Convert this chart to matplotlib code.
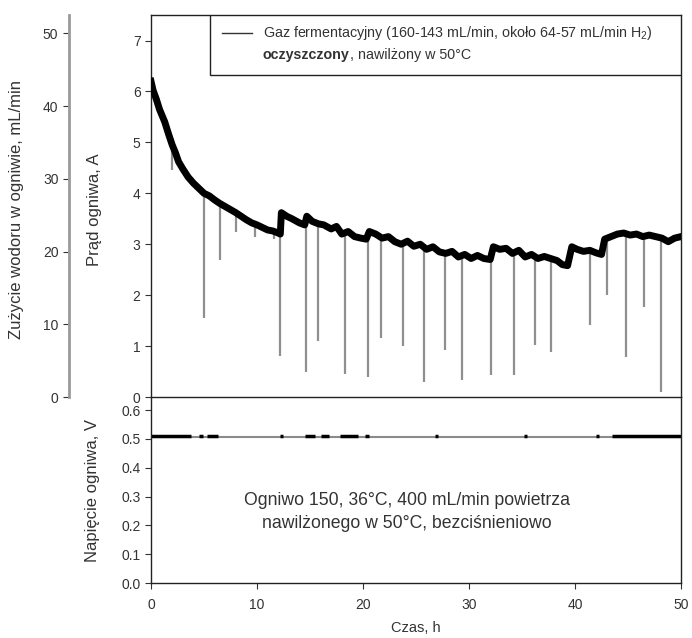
#!/usr/bin/env python3
"""Prąd i napięcie ogniwa 150 zasilanego gazem fermentacyjnym (50 h)."""

import numpy as np
import matplotlib
matplotlib.use("Agg")
import matplotlib.pyplot as plt
from matplotlib.patches import Rectangle

# Prąd ogniwa - przebieg bazowy
time_h = [0, 0.2, 0.5, 0.8, 1, 1.3, 1.6, 2, 2.3, 2.6, 3, 3.5, 4, 4.5, 5, 5.5,
          6, 6.5, 7, 7.5, 8, 8.5, 9, 9.5, 10, 10.5, 11, 11.5, 12, 12.2,
          12.3, 12.8, 13.3, 14, 14.5, 14.7, 15.2, 15.8, 16.3, 17, 17.5, 18,
          18.6, 19.2, 19.8, 20.3, 20.6, 21.2, 21.8, 22.4, 23, 23.6, 24.2, 24.8,
          25.4, 26, 26.6, 27.2, 27.8, 28.4, 29, 29.6, 30.2, 30.8, 31.4, 32.0,
          32.3, 32.9, 33.5, 34.1, 34.7, 35.3, 35.9, 36.5, 37.1, 37.7, 38.3,
          38.8, 39.3, 39.7, 40.2, 40.8, 41.4, 42.0, 42.5, 42.8, 43.4, 44.0,
          44.6, 45.2, 45.8, 46.4, 47.0, 47.6, 48.2, 48.8, 49.4, 50]
current_a = [6.2, 6.02, 5.85, 5.65, 5.55, 5.4, 5.2, 4.95, 4.8, 4.62, 4.48, 4.32,
             4.2, 4.1, 4.0, 3.95, 3.87, 3.8, 3.74, 3.68, 3.62, 3.55, 3.48, 3.42,
             3.38, 3.33, 3.28, 3.26, 3.22, 3.2,
             3.62, 3.55, 3.5, 3.42, 3.38, 3.55, 3.45, 3.4, 3.38, 3.3, 3.35, 3.2,
             3.25, 3.15, 3.12, 3.1, 3.25, 3.2, 3.12, 3.15, 3.05, 3.0, 3.06, 2.96,
             3.0, 2.9, 2.95, 2.85, 2.82, 2.86, 2.75, 2.8, 2.72, 2.78, 2.72, 2.7,
             2.95, 2.9, 2.92, 2.82, 2.88, 2.75, 2.8, 2.72, 2.76, 2.72, 2.68,
             2.6, 2.58, 2.95, 2.9, 2.86, 2.88, 2.83, 2.8, 3.1, 3.15, 3.2,
             3.22, 3.18, 3.2, 3.15, 3.18, 3.15, 3.12, 3.05, 3.12, 3.15]

# Krótkie spadki prądu: czas (h) i minimum (A)
dip_time_h = [2.0, 5.0, 6.5, 8.0, 9.8, 11.6, 12.2, 14.6, 15.8, 18.3, 20.5,
              21.7, 23.8, 25.8, 27.7, 29.3, 32.1, 34.2, 36.2, 37.7, 41.4,
              43.0, 44.8, 46.5, 48.1]
dip_min_a = [4.45, 1.55, 2.7, 3.25, 3.15, 3.1, 0.8, 0.5, 1.1, 0.45, 0.4,
             1.15, 1.0, 0.3, 0.92, 0.33, 0.43, 0.43, 1.02, 0.89, 1.41,
             2.0, 0.79, 1.77, 0.1]

# Napięcie ogniwa - stałe ~0.5 V, odcinki z gęstymi punktami
voltage_level = 0.505
voltage_mark_start = [0.0, 4.5, 5.3, 12.2, 14.5, 16.0, 17.8, 20.2, 26.8, 35.2, 42.0, 43.5]
voltage_mark_end = [3.8, 4.9, 6.3, 12.5, 15.5, 16.8, 19.5, 20.6, 27.1, 35.5, 42.3, 50.0]

TEXT_COLOR = "#333333"
YLABEL_SIZE = 12


def style_axis(ax):
    ax.tick_params(colors=TEXT_COLOR, labelsize=10, length=4, width=0.8)
    for sp in ax.spines.values():
        sp.set_color("#222222")
        sp.set_linewidth(1.0)


def draw_current(ax):
    ax.plot(time_h, current_a, color="black", linewidth=5, solid_joinstyle="round", zorder=3)
    base = np.interp(dip_time_h, time_h, current_a)
    ax.vlines(dip_time_h, dip_min_a, base, color="#8f8f8f", linewidth=1.6, zorder=2)
    ax.set_xlim(0, 50)
    ax.set_ylim(0, 7.5)
    ax.set_yticks(range(0, 8))
    ax.set_xticks([])
    ax.set_ylabel("Prąd ogniwa, A", fontsize=YLABEL_SIZE, color=TEXT_COLOR)
    ax.yaxis.set_label_coords(-0.0925, 0.49)
    style_axis(ax)

    # Oś zużycia wodoru (przesunięta w lewo)
    ax_h = ax.twinx()
    ax_h.set_ylim(0, 52.5)
    ax_h.set_yticks(range(0, 60, 10))
    ax_h.yaxis.tick_left()
    ax_h.yaxis.set_label_position("left")
    for name in ("right", "top", "bottom"):
        ax_h.spines[name].set_visible(False)
    ax_h.spines["left"].set_position(("axes", -0.155))
    style_axis(ax_h)
    ax_h.spines["left"].set_color("#9a9a9a")
    ax_h.spines["left"].set_linewidth(2)
    ax_h.set_ylabel("Zużycie wodoru w ogniwie, mL/min", fontsize=YLABEL_SIZE, color=TEXT_COLOR)
    ax_h.yaxis.set_label_coords(-0.24, 0.49)


def draw_legend(ax):
    box = Rectangle((0.1113, 0.843), 1.0 - 0.1113, 0.157, transform=ax.transAxes,
                    facecolor="white", edgecolor="#222222", linewidth=1.0, zorder=5)
    ax.add_patch(box)
    ax.plot([0.134, 0.19], [0.953, 0.953], transform=ax.transAxes, color="#333333",
            linewidth=1.0, zorder=6)
    ax.text(0.211, 0.953, "Gaz fermentacyjny (160-143 mL/min, około 64-57 mL/min H$_2$)",
            transform=ax.transAxes, fontsize=10.3, va="center", color=TEXT_COLOR, zorder=6)
    bold = ax.text(0.211, 0.895, "oczyszczony", transform=ax.transAxes, fontsize=10.3,
                   fontweight="bold", va="center", color=TEXT_COLOR, zorder=6)
    ax.annotate(", nawilżony w 50°C", xy=(1, 0), xycoords=bold, va="bottom",
                fontsize=10.3, color=TEXT_COLOR, zorder=6)


def draw_voltage(ax):
    ax.patch.set_visible(False)
    ax.plot([0, 50], [voltage_level, voltage_level], color="#8a8a8a", linewidth=1.5)
    ax.hlines([voltage_level + 0.004] * len(voltage_mark_start), voltage_mark_start,
              voltage_mark_end, color="black", linewidth=2.5)
    ax.set_xlim(0, 50)
    ax.set_ylim(0, 0.645)
    ax.set_yticks(np.arange(0, 0.61, 0.1))
    ax.set_yticklabels([f"{v:.1f}" for v in np.arange(0, 0.61, 0.1)])
    ax.set_xticks(range(0, 51, 10))
    ax.spines["top"].set_visible(False)
    style_axis(ax)
    ax.tick_params(axis="x", pad=7)
    ax.set_xlabel("Czas, h", fontsize=10.5, color=TEXT_COLOR, labelpad=6)
    ax.set_ylabel("Napięcie ogniwa, V", fontsize=YLABEL_SIZE, color=TEXT_COLOR)
    ax.yaxis.set_label_coords(-0.096, 0.5)
    ax.text(0.483, 0.38, "Ogniwo 150, 36°C, 400 mL/min powietrza\n"
            "nawilżonego w 50°C, bezciśnieniowo", transform=ax.transAxes,
            ha="center", va="center", fontsize=12.7, color=TEXT_COLOR, linespacing=1.45)


def main():
    plt.rcParams["font.family"] = ["Liberation Sans", "DejaVu Sans"]
    plt.rcParams["mathtext.fontset"] = "custom"
    plt.rcParams["mathtext.rm"] = "Liberation Sans"

    fig = plt.figure(figsize=(6.92, 6.38), dpi=100)
    ax_v = fig.add_axes([0.2182, 0.0862, 0.7659, 0.2915])
    ax_i = fig.add_axes([0.2182, 0.3777, 0.7659, 0.5987])

    draw_voltage(ax_v)
    draw_current(ax_i)
    draw_legend(ax_i)

    fig.savefig("out.png", dpi=100)
    plt.close(fig)


if __name__ == "__main__":
    main()
